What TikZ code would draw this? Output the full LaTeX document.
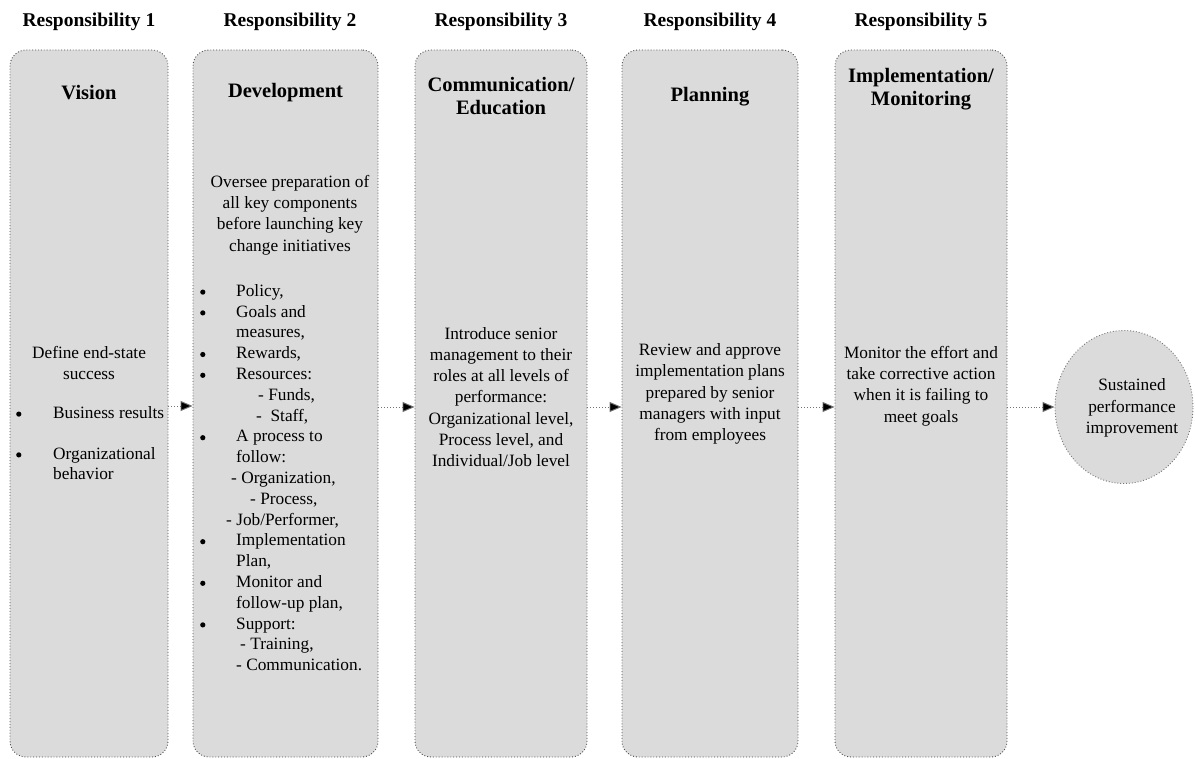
\documentclass[tikz,border=0pt]{standalone}
\usepackage{fontspec}
\setmainfont{Liberation Serif}
\usetikzlibrary{shapes.geometric,arrows.meta}
\tikzset{
  lane/.style={draw=black!70, dotted, line width=0.9pt, fill=black!14, rounded corners=16pt, inner sep=0pt},
  goal/.style={draw=black!55, dotted, line width=0.9pt, fill=black!14, ellipse, inner sep=0pt, minimum width=138pt, minimum height=153pt},
  head/.style={font=\fontsize{19.5}{23}\selectfont\bfseries, inner sep=0pt},
  ttl/.style={font=\fontsize{20.5}{23}\selectfont\bfseries, align=center, inner sep=0pt},
  body/.style={font=\fontsize{17.3}{21.2}\selectfont, align=center, inner sep=0pt},
  lst/.style={font=\fontsize{17.3}{20.8}\selectfont, align=left, inner sep=0pt},
  flow/.style={draw=black!55, dotted, line width=0.9pt, -{Triangle[length=12pt,width=10pt,fill=black]}},
}
\newcommand{\bigdot}{\raisebox{1.5pt}{\tikz\fill (0,0) circle (2.6pt);}}
\newcommand{\bl}{\makebox[36pt][l]{\bigdot}}
\begin{document}
\begin{tikzpicture}[x=1pt,y=-1pt]
\useasboundingbox (0,0) rectangle (1195,759);
% lanes
\node[lane, minimum width=158pt, minimum height=707pt] (b1) at (89,403.5) {};
\node[lane, minimum width=185pt, minimum height=707pt] (b2) at (285.5,403.5) {};
\node[lane, minimum width=172pt, minimum height=707pt] (b3) at (501,403.5) {};
\node[lane, minimum width=176pt, minimum height=707pt] (b4) at (710,403.5) {};
\node[lane, minimum width=172pt, minimum height=707pt] (b5) at (921,403.5) {};
\node[goal] (g) at (1124,407) {};
% headers
\node[head] (h1) at (89,22) {Responsibility 1};
\node[head] (h2) at (290,22) {Responsibility 2};
\node[head] (h3) at (501,22) {Responsibility 3};
\node[head] (h4) at (710,22) {Responsibility 4};
\node[head] (h5) at (921,22) {Responsibility 5};
% titles
\node[ttl] (t1) at (89,93) {Vision};
\node[ttl] (t2) at (285.5,93) {Development};
\node[ttl] (t3) at (501,96) {Communication/\\Education};
\node[ttl] (t4) at (710,97) {Planning};
\node[ttl] (t5) at (921,89) {Implementation/\\Monitoring};
% box 1
\node[body] (d1) at (89,363) {Define end-state\\success};
\node[lst, anchor=north west] (l1) at (16,406) {\makebox[37pt][l]{\bigdot}Business results\\[20pt]
\makebox[37pt][l]{\bigdot}Organizational\\\hspace*{37pt}behavior};
% box 2
\node[body] (d2) at (290,215) {Oversee preparation of\\all key components\\before launching key\\change initiatives};
\node[lst, anchor=north west] (l2) at (200,284) {\bl Policy,\\
\bl Goals and\\
\hspace*{36pt}measures,\\
\bl Rewards,\\
\bl Resources:\\
\hspace*{58pt}- Funds,\\
\hspace*{56pt}-\ \ Staff,\\
\bl A process to\\
\hspace*{36pt}follow:\\
\hspace*{31pt}- Organization,\\
\hspace*{50pt}- Process,\\
\hspace*{26pt}- Job/Performer,\\
\bl Implementation\\
\hspace*{36pt}Plan,\\
\bl Monitor and\\
\hspace*{36pt}follow-up plan,\\
\bl Support:\\
\hspace*{40pt}- Training,\\
\hspace*{36pt}- Communication.};
% box 3-5
\node[body] (d3) at (501,397) {Introduce senior\\management to their\\roles at all levels of\\performance:\\Organizational level,\\Process level, and\\Individual/Job level};
\node[body] (d4) at (710,394) {Review and approve\\implementation plans\\prepared by senior\\managers with input\\from employees};
\node[body] (d5) at (921,386) {Monitor the effort and\\take corrective action\\when it is failing to\\meet goals};
\node[body] (d6) at (1132,408) {Sustained\\performance\\improvement};
% arrows
\draw[flow] (b1.east |- 0,406) -- (b2.west |- 0,406);
\draw[flow] (b2.east |- 0,407) -- (b3.west |- 0,407);
\draw[flow] (b3.east |- 0,407) -- (b4.west |- 0,407);
\draw[flow] (b4.east |- 0,407) -- (b5.west |- 0,407);
\draw[flow] (b5.east |- 0,407) -- (g.west);
\end{tikzpicture}
\end{document}
